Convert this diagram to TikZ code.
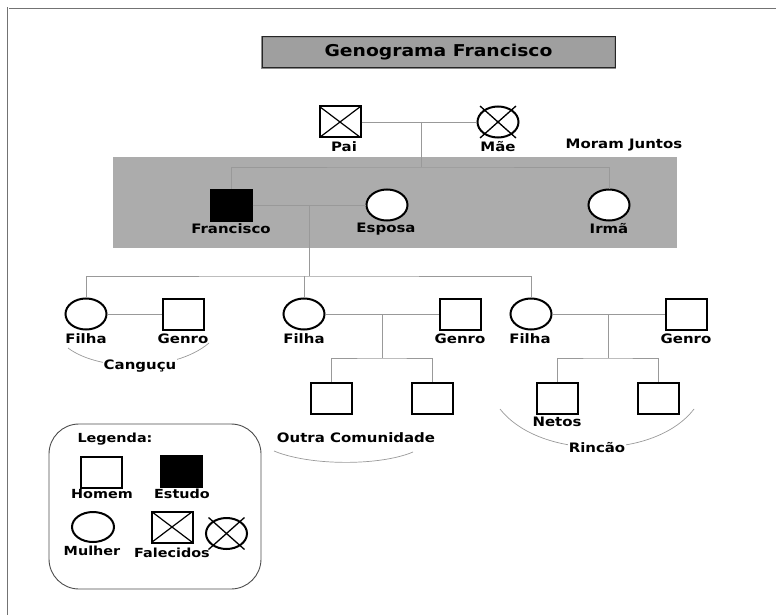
\documentclass[tikz,border=0pt]{standalone}
\usepackage{fontspec}
\setmainfont{DejaVu Sans}[FakeStretch=1.15]
\usetikzlibrary{shapes.geometric}

\tikzset{
  homem/.style={draw, fill=white, line width=2pt, minimum width=41pt, minimum height=31pt, inner sep=0pt},
  mulher/.style={homem, ellipse},
  estudo/.style={homem, fill=black},
  falecido/.style={homem, path picture={
      \draw[line width=1.2pt] (path picture bounding box.north west) -- (path picture bounding box.south east)
                              (path picture bounding box.north east) -- (path picture bounding box.south west);}},
  cruz/.style={line width=1.3pt},
  rotulo/.style={font=\bfseries\fontsize{13}{15}\selectfont, inner sep=1pt},
  legrotulo/.style={font=\bfseries\fontsize{12.5}{14}\selectfont, inner sep=1pt},
  titulo/.style={draw=gray!90, double=black!85, double distance=1pt, line width=0.6pt, fill=gray!75,
      minimum width=353pt, minimum height=31pt, font=\bfseries\fontsize{16.3}{18}\selectfont},
  linha/.style={draw=gray!80, line width=0.8pt},
  arco/.style={draw=gray!80, line width=0.7pt},
  moldura/.style={draw=black!55, double, double distance=1pt, line width=0.8pt},
  caixa/.style={draw=black!70, line width=0.9pt, rounded corners=30pt}
}

\begin{document}
\begin{tikzpicture}[x=1pt, y=1pt]
\useasboundingbox (0,0) rectangle (776,-615);
% frame and backgrounds
\draw[moldura] (8,-615) -- (8,-8) -- (776,-8);
\fill[gray!65] (113,-157) rectangle (677,-248);
\node[titulo] (titulo) at (438.5,-52.5) {Genograma Francisco};

%%% Draws parents
% draws vertices
\node[falecido] (pai) at (340,-122) {};
\node[mulher] (mae) at (498,-122) {};
\draw[cruz] ([shift={(-18,16)}]mae.center) -- ([shift={(18,-16)}]mae.center);
\draw[cruz] ([shift={(18,16)}]mae.center) -- ([shift={(-18,-16)}]mae.center);
% label vertices
\node[rotulo] (lpai) at (344,-147) {Pai};
\node[rotulo] (lmae) at (498,-147) {Mãe};
\node[rotulo] (ljuntos) at (624,-145) {Moram Juntos};

%%% Draws generation of Francisco
% draws vertices
\node[estudo] (francisco) at (231,-205) {};
\node[mulher] (esposa) at (387,-205) {};
\node[mulher] (irma) at (609,-205) {};
% draws edges
\coordinate (c1) at (421,-122);
\coordinate (c1b) at (421,-167);
\draw[linha] (pai.east) -- (mae.west);
\draw[linha] (c1) -- (c1b);
\draw[linha] (francisco.north) |- (c1b) -| (irma.north);
% label vertices
\node[rotulo] (lfrancisco) at (231,-229) {Francisco};
\node[rotulo] (lesposa) at (386,-229) {Esposa};
\node[rotulo] (lirma) at (609,-229) {Irmã};

%%% Draws daughters
% draws vertices
\node[mulher] (filha1) at (86,-314) {};
\node[homem] (genro1) at (183.5,-314) {};
\node[mulher] (filha2) at (304,-314) {};
\node[homem] (genro2) at (460,-314) {};
\node[mulher] (filha3) at (531,-314) {};
\node[homem] (genro3) at (686,-314) {};
% draws edges
\coordinate (c2) at (309,-205);
\coordinate (c2b) at (309,-276);
\draw[linha] (francisco.east) -- (esposa.west);
\draw[linha] (c2) -- (c2b);
\draw[linha] (filha1.north) |- (c2b) -| (filha3.north);
\draw[linha] (filha2.north) -- (filha2.north |- c2b);
\draw[linha] (filha1.east) -- (genro1.west);
\draw[linha] (filha2.east) -- (genro2.west);
\draw[linha] (filha3.east) -- (genro3.west);
% label vertices
\node[rotulo] (lfilha1) at (86,-339) {Filha};
\node[rotulo] (lgenro1) at (183,-339) {Genro};
\node[rotulo] (lfilha2) at (304,-339) {Filha};
\node[rotulo] (lgenro2) at (460,-339) {Genro};
\node[rotulo] (lfilha3) at (530,-339) {Filha};
\node[rotulo] (lgenro3) at (686,-339) {Genro};

%%% Draws grandchildren
% draws vertices
\node[homem] (neto1) at (331,-398) {};
\node[homem] (neto2) at (432,-398) {};
\node[homem] (neto3) at (557,-398) {};
\node[homem] (neto4) at (658,-398) {};
% draws edges
\coordinate (c4) at (382,-314);
\coordinate (c4b) at (382,-358);
\coordinate (c5) at (608,-314);
\coordinate (c5b) at (608,-358);
\draw[linha] (c4) -- (c4b);
\draw[linha] (neto1.north) |- (c4b) -| (neto2.north);
\draw[linha] (c5) -- (c5b);
\draw[linha] (neto3.north) |- (c5b) -| (neto4.north);
% label vertices
\node[rotulo] (lnetos) at (557,-422) {Netos};

%%% Draws places
\draw[arco] (68,-348) .. controls (100,-372) and (175,-372) .. (209,-343);
\node[rotulo, fill=white] (lcangucu) at (140,-366) {Canguçu};
\draw[arco] (274,-451) .. controls (310,-466) and (380,-466) .. (413,-452);
\node[rotulo] (loutra) at (356,-438) {Outra Comunidade};
\draw[arco] (500,-409) .. controls (540,-460) and (655,-460) .. (694,-409);
\node[rotulo, fill=white] (lrincao) at (597,-448) {Rincão};

%%% Draws legend
\draw[caixa] (49,-424) rectangle (261,-589);
\node[legrotulo] (llegenda) at (115,-439) {Legenda:};
% draws vertices
\node[homem] (leghomem) at (101.5,-472) {};
\node[estudo] (legestudo) at (181.5,-471.5) {};
\node[mulher, minimum width=42pt, minimum height=30pt] (legmulher) at (93,-527) {};
\node[falecido] (legfalecido) at (172,-527) {};
\node[mulher] (legfalecida) at (226.5,-533.5) {};
\draw[cruz] ([shift={(-18,16)}]legfalecida.center) -- ([shift={(18,-16)}]legfalecida.center);
\draw[cruz] ([shift={(18,16)}]legfalecida.center) -- ([shift={(-18,-16)}]legfalecida.center);
% label vertices
\node[legrotulo] (lleghomem) at (102,-494) {Homem};
\node[legrotulo] (llegestudo) at (182,-494) {Estudo};
\node[legrotulo] (llegmulher) at (92,-551) {Mulher};
\node[legrotulo] (llegfalecidos) at (172,-553) {Falecidos};
\end{tikzpicture}
\end{document}
